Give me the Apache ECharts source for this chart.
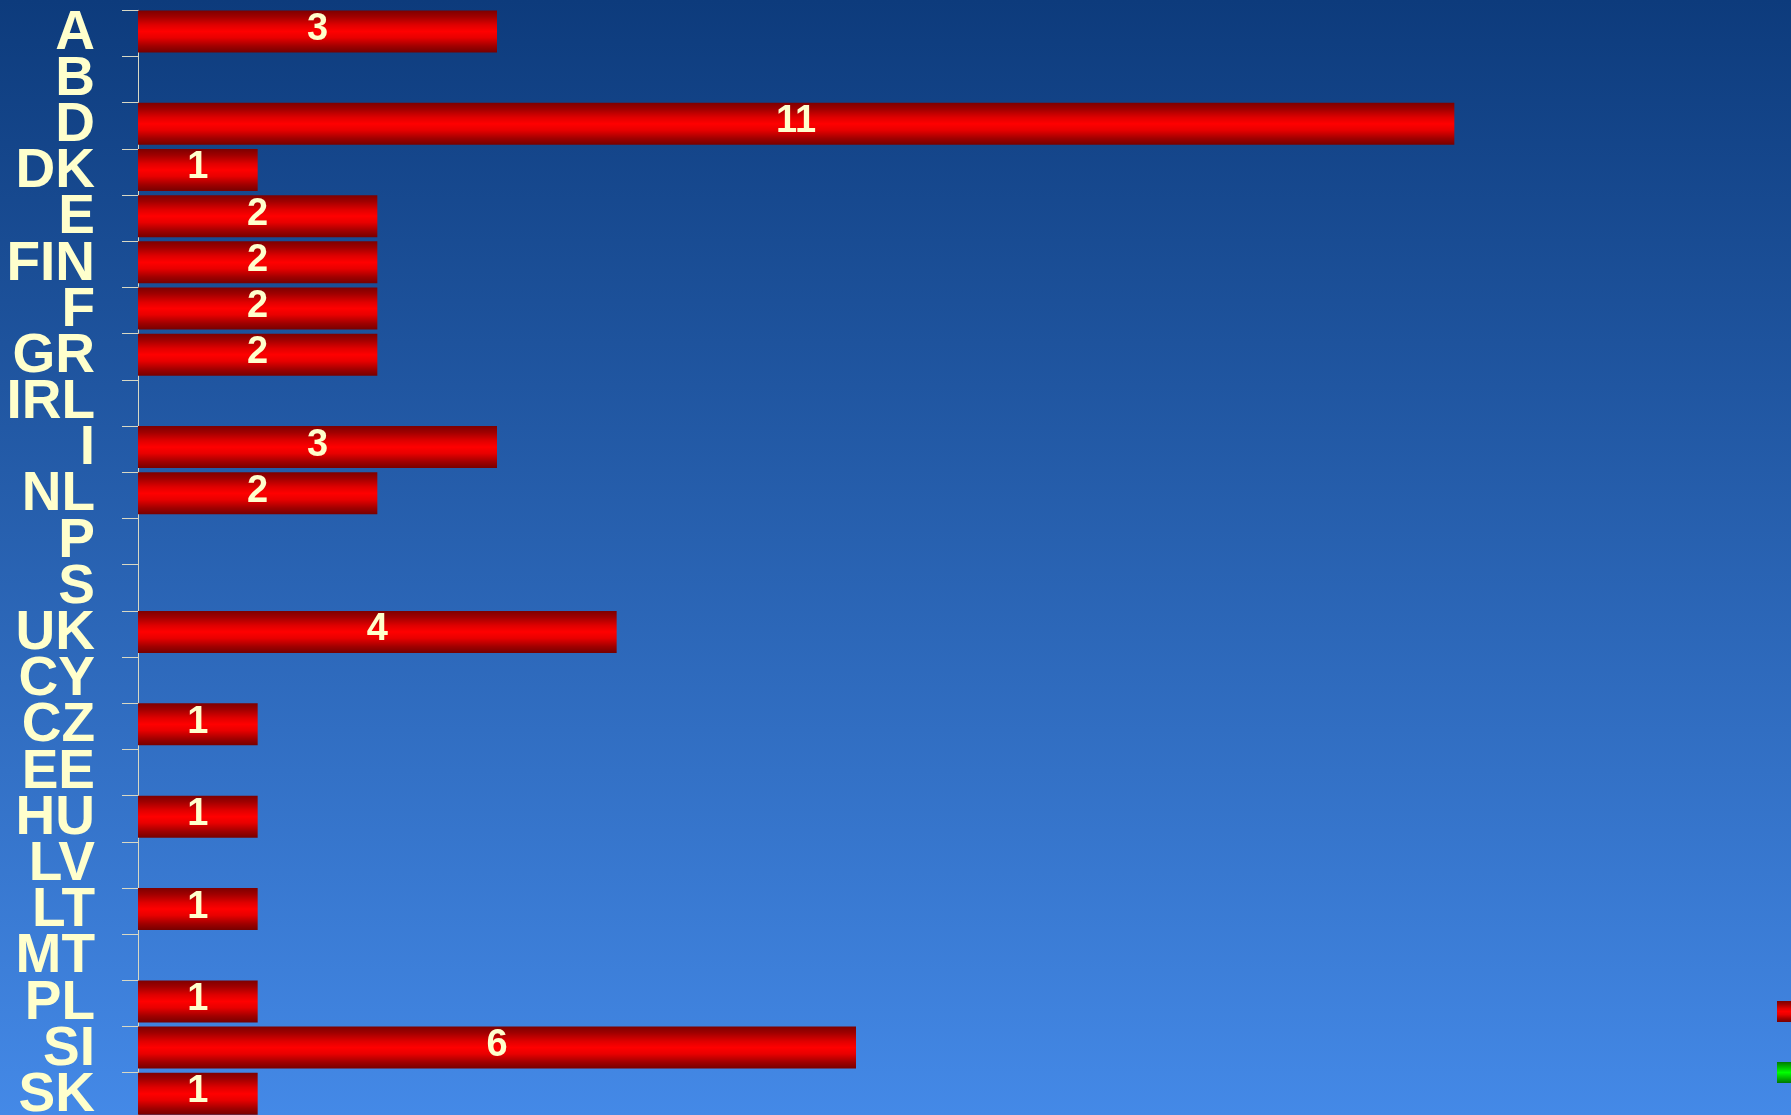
<!DOCTYPE html>
<html>
<head>
<meta charset="utf-8">
<script src="https://cdn.jsdelivr.net/npm/echarts@6/dist/echarts.min.js"></script>
<style>
html,body{margin:0;padding:0;width:1791px;height:1115px;overflow:hidden;}
#chart{width:1791px;height:1115px;}
</style>
</head>
<body>
<div id="chart"></div>
<script>
// Data
const categories = ['A','B','D','DK','E','FIN','F','GR','IRL','I','NL','P','S','UK','CY','CZ','EE','HU','LV','LT','MT','PL','SI','SK'];
const redValues = [3,0,11,1,2,2,2,2,0,3,2,0,0,4,0,1,0,1,0,1,0,1,6,1];
const greenValues = [null,null,null,null,null,null,null,null,null,null,null,null,null,null,null,null,null,null,null,null,null,null,null,null];
const seriesNames = ['Series 1','Series 2'];

const chart = echarts.init(document.getElementById('chart'), null, {renderer:'canvas'});

const redGrad = new echarts.graphic.LinearGradient(0,0,0,1,[
  {offset:0,color:'#7d0000'},
  {offset:0.15,color:'#a00000'},
  {offset:0.35,color:'#e00000'},
  {offset:0.5,color:'#ff0000'},
  {offset:0.65,color:'#e80000'},
  {offset:0.85,color:'#a00000'},
  {offset:1,color:'#760000'}
]);
const greenGrad = new echarts.graphic.LinearGradient(0,0,0,1,[
  {offset:0,color:'#007d00'},
  {offset:0.2,color:'#00b000'},
  {offset:0.5,color:'#00ff00'},
  {offset:0.8,color:'#00b000'},
  {offset:1,color:'#007600'}
]);

const option = {
  animation:false,
  backgroundColor:new echarts.graphic.LinearGradient(0,0,0,1,[
    {offset:0,color:'#0d3b7c'},
    {offset:1,color:'#4489e7'}
  ]),
  textStyle:{fontFamily:'Liberation Sans'},
  legend:{
    orient:'vertical',
    left:1777,
    top:1001,
    padding:0,
    icon:'rect',
    itemWidth:24,
    itemHeight:21,
    itemGap:40,
    textStyle:{color:'#ffffcc',fontSize:14},
    data:seriesNames
  },
  grid:{
    left:138,
    top:10.3,
    width:1436,
    height:1108.6,
    containLabel:false,
    outerBoundsMode:'none'
  },
  xAxis:{
    type:'value',
    min:0,
    max:12,
    interval:1,
    axisLine:{show:false},
    axisTick:{show:false},
    axisLabel:{show:false},
    splitLine:{show:false}
  },
  yAxis:{
    type:'category',
    inverse:true,
    data:categories,
    axisLine:{show:true,lineStyle:{color:'#d8d8c4',width:1}},
    axisTick:{show:true,length:16,interval:0,lineStyle:{color:'#d8d8c4',width:1}},
    axisLabel:{
      interval:0,
      color:'#ffffcc',
      fontSize:55,
      fontWeight:'bold',
      fontFamily:'Liberation Sans',
      margin:43,
      padding:[6,0,0,0]
    }
  },
  series:[
    {
      name:seriesNames[0],
      type:'bar',
      data:redValues,
      barWidth:42,
      barGap:'0%',
      itemStyle:{color:redGrad},
      label:{
        show:true,
        position:'inside',
        offset:[0,-2],
        color:'#ffffcc',
        fontSize:38,
        fontWeight:'bold',
        fontFamily:'Liberation Sans',
        formatter:function(p){return p.value ? String(p.value) : '';}
      }
    },
    {
      name:seriesNames[1],
      type:'bar',
      data:greenValues,
      barWidth:4,
      barGap:'0%',
      itemStyle:{color:greenGrad}
    }
  ]
};
chart.setOption(option);
</script>
</body>
</html>
